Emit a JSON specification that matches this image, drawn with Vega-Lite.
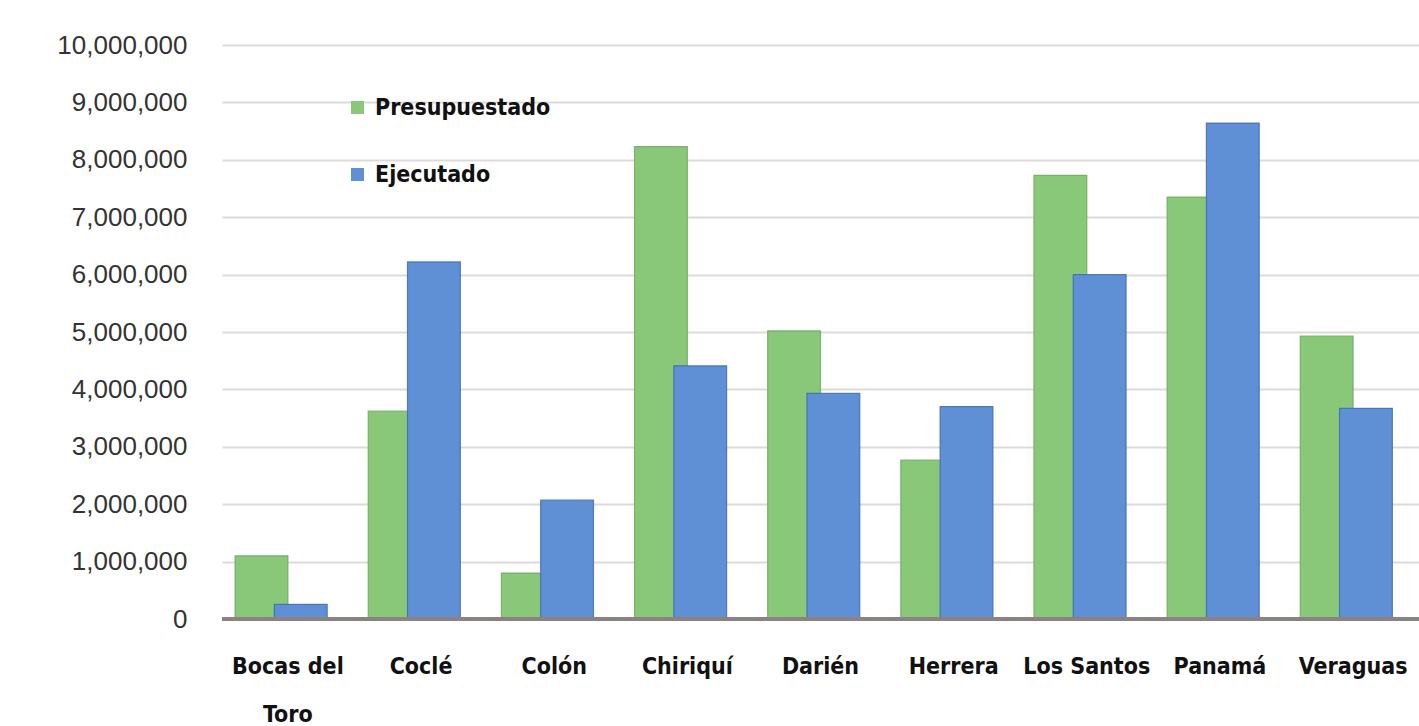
{
  "$schema": "https://vega.github.io/schema/vega-lite/v6.json",
  "width": 1197,
  "height": 574,
  "autosize": {"type": "none"},
  "padding": {"left": 222, "top": 45, "right": 0, "bottom": 107},
  "background": "white",
  "config": {
    "view": {"stroke": null},
    "axis": {"grid": false}
  },
  "data": {
    "values": [
      {"provincia": "Bocas del Toro", "serie": "Presupuestado", "monto": 1100000},
      {"provincia": "Coclé", "serie": "Presupuestado", "monto": 3620000},
      {"provincia": "Colón", "serie": "Presupuestado", "monto": 800000},
      {"provincia": "Chiriquí", "serie": "Presupuestado", "monto": 8230000},
      {"provincia": "Darién", "serie": "Presupuestado", "monto": 5020000},
      {"provincia": "Herrera", "serie": "Presupuestado", "monto": 2770000},
      {"provincia": "Los Santos", "serie": "Presupuestado", "monto": 7730000},
      {"provincia": "Panamá", "serie": "Presupuestado", "monto": 7350000},
      {"provincia": "Veraguas", "serie": "Presupuestado", "monto": 4930000},
      {"provincia": "Bocas del Toro", "serie": "Ejecutado", "monto": 256000},
      {"provincia": "Coclé", "serie": "Ejecutado", "monto": 6220000},
      {"provincia": "Colón", "serie": "Ejecutado", "monto": 2070000},
      {"provincia": "Chiriquí", "serie": "Ejecutado", "monto": 4410000},
      {"provincia": "Darién", "serie": "Ejecutado", "monto": 3930000},
      {"provincia": "Herrera", "serie": "Ejecutado", "monto": 3700000},
      {"provincia": "Los Santos", "serie": "Ejecutado", "monto": 6000000},
      {"provincia": "Panamá", "serie": "Ejecutado", "monto": 8640000},
      {"provincia": "Veraguas", "serie": "Ejecutado", "monto": 3670000}
    ]
  },
  "layer": [
    {
      "mark": {"type": "bar", "width": {"band": 1.345}, "strokeWidth": 1.2, "strokeOpacity": 0.8},
      "encoding": {
        "x": {
          "field": "provincia",
          "type": "nominal",
          "sort": ["Bocas del Toro", "Coclé", "Colón", "Chiriquí", "Darién", "Herrera", "Los Santos", "Panamá", "Veraguas"],
          "scale": {"paddingInner": 0.41, "paddingOuter": 0.2},
          "axis": {
            "title": null,
            "domain": false,
            "ticks": false,
            "labelAngle": 0,
            "labelPadding": 54,
            "labelFont": "DejaVu Sans Condensed, sans-serif",
            "labelFontWeight": "bold",
            "labelFontSize": 23,
            "labelColor": "#111111",
            "labelLineHeight": 48,
            "labelBaseline": "alphabetic",
            "labelExpr": "datum.value == 'Bocas del Toro' ? ['Bocas del', 'Toro'] : datum.value"
          }
        },
        "xOffset": {
          "field": "serie",
          "type": "nominal",
          "scale": {"domain": ["Presupuestado", "Ejecutado"], "paddingInner": 0, "paddingOuter": 0}
        },
        "y": {
          "field": "monto",
          "type": "quantitative",
          "scale": {"domain": [0, 10000000], "nice": false},
          "axis": {
            "title": null,
            "values": [0, 1000000, 2000000, 3000000, 4000000, 5000000, 6000000, 7000000, 8000000, 9000000, 10000000],
            "format": ",d",
            "domain": false,
            "ticks": false,
            "grid": true,
            "gridColor": "#dedada",
            "gridWidth": 2,
            "labelPadding": 35,
            "labelFont": "Liberation Sans, Arial, sans-serif",
            "labelFontSize": 26,
            "labelColor": "#333333"
          }
        },
        "color": {
          "field": "serie",
          "type": "nominal",
          "scale": {"domain": ["Presupuestado", "Ejecutado"], "range": ["#88c878", "#5f90d6"]},
          "legend": {
            "title": null,
            "orient": "none",
            "legendX": 124,
            "legendY": 51,
            "symbolType": "square",
            "symbolSize": 169,
            "symbolStrokeWidth": 0,
            "labelFont": "DejaVu Sans Condensed, sans-serif",
            "labelFontWeight": "bold",
            "labelFontSize": 23,
            "labelColor": "#111111",
            "labelOffset": 6,
            "labelLimit": 0,
            "rowPadding": 43
          }
        },
        "stroke": {
          "field": "serie",
          "type": "nominal",
          "scale": {"domain": ["Presupuestado", "Ejecutado"], "range": ["#6da65c", "#3c68b0"]},
          "legend": null
        }
      }
    },
    {
      "mark": {"type": "rule", "color": "#8c8282", "strokeWidth": 3},
      "encoding": {"y": {"datum": 0, "type": "quantitative"}}
    }
  ]
}
